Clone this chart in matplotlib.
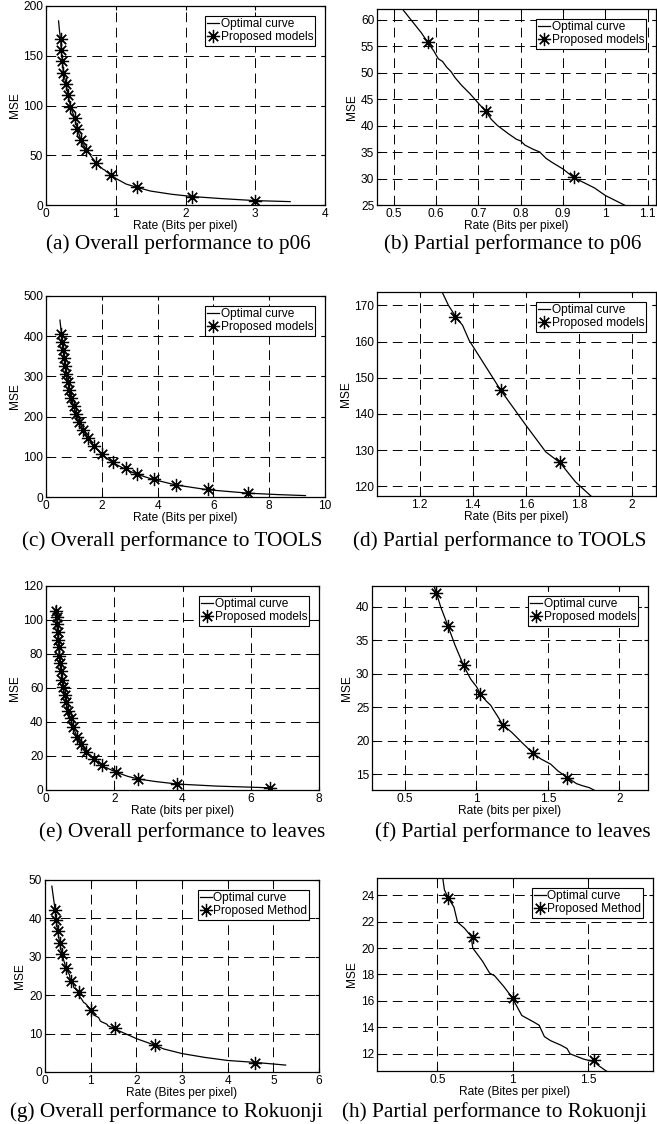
"""
Rate-distortion plots: optimal curve vs proposed models for four test images,
overall view (left column) and zoomed partial view (right column).
"""

import matplotlib
matplotlib.use('Agg')
import matplotlib.pyplot as plt
from matplotlib.ticker import FormatStrFormatter

W, H = 657, 1124

# ---- p06 ----
p06_curve_rate = [0.18, 0.195, 0.21, 0.22, 0.235, 0.25, 0.29, 0.32, 0.35, 0.41, 0.45, 0.5,
                  0.52, 0.545, 0.565, 0.58, 0.595, 0.605, 0.615, 0.625, 0.635, 0.645, 0.66,
                  0.68, 0.70, 0.717, 0.73, 0.745, 0.77, 0.79, 0.80, 0.81, 0.83, 0.845, 0.86,
                  0.875, 0.90, 0.925, 0.95, 0.975, 1.0, 1.02, 1.045, 1.15, 1.31, 1.5, 1.8,
                  2.1, 2.5, 3.0, 3.5]
p06_curve_mse = [185, 174, 166, 155, 144, 133, 121, 110, 99, 87.6, 76.3, 65.5,
                 62, 59.5, 57.5, 55.7, 54, 52.6, 52.1, 51, 50.2, 49, 47.6,
                 46, 44.2, 42.7, 41.2, 40, 38.5, 37.4, 37.1, 36.3, 35.5, 35.0, 33.8,
                 33.0, 31.8, 30.2, 29.2, 28.2, 26.8, 26.0, 25.0, 21, 17.6, 14, 10.8,
                 8.5, 6.5, 4.4, 3.4]
p06_model_rate = [0.21, 0.22, 0.235, 0.25, 0.29, 0.32, 0.35, 0.41, 0.45, 0.5, 0.58,
                  0.717, 0.925, 1.31, 2.1, 3.0]
p06_model_mse = [166.4, 155.5, 144.3, 133.1, 121.6, 110.3, 98.9, 87.6, 76.3, 65.5, 55.7,
                 42.7, 30.2, 17.6, 8.5, 4.4]

# ---- TOOLS ----
tools_curve_rate = [0.5, 0.555, 0.583, 0.614, 0.649, 0.689, 0.733, 0.784, 0.842, 0.91, 0.99,
                    1.083, 1.195, 1.285, 1.309, 1.337, 1.362, 1.387, 1.45, 1.506, 1.6, 1.675,
                    1.729, 1.787, 1.845, 2.0, 2.4, 2.85, 3.26, 3.88, 4.65, 5.8, 7.25, 8.3, 9.3]
tools_curve_mse = [440, 405, 386, 366, 346, 326, 306, 286, 266, 246, 226,
                   206, 186, 173.7, 170, 166.8, 164.5, 160.3, 153, 146.5, 136.9, 129.5,
                   126.5, 121.2, 117.3, 105, 85, 69, 56.5, 43, 30, 18, 9.5, 6, 3.5]
tools_model_rate = [0.555, 0.583, 0.614, 0.649, 0.689, 0.733, 0.784, 0.842, 0.91, 0.99,
                    1.083, 1.195, 1.335, 1.505, 1.727, 2.0, 2.4, 2.85, 3.26, 3.88, 4.65,
                    5.8, 7.25]
tools_model_mse = [406.7, 386.7, 366.7, 346.7, 326.7, 306.7, 286.7, 266.7, 246.7, 226.7,
                   206.7, 186.7, 166.7, 146.7, 126.7, 106.7, 86.7, 71, 58, 44, 31, 19, 10.5]

# ---- leaves ----
leaves_curve_rate = [0.29, 0.3, 0.322, 0.352, 0.392, 0.44, 0.505, 0.59, 0.65, 0.702, 0.72,
                     0.75, 0.8, 0.85, 0.91, 0.96, 1.0, 1.028, 1.07, 1.1, 1.12, 1.15, 1.184,
                     1.25, 1.32, 1.393, 1.45, 1.52, 1.57, 1.637, 1.7, 1.74, 1.79, 1.82,
                     2.05, 2.4, 2.7, 3.2, 3.85, 5.0, 6.55]
leaves_curve_mse = [108, 105.5, 97.5, 88.5, 79, 70, 60.5, 51.5, 46.7, 43.1, 42.1,
                    40, 37.2, 34.3, 31.25, 29.2, 28.1, 27.0, 25.9, 25.3, 24.6, 23.6, 22.4,
                    21.2, 19.7, 18.2, 17.3, 16.5, 15.5, 14.5, 13.6, 13.3, 13.0, 12.66,
                    10.5, 8.0, 6.5, 5.0, 3.5, 2.3, 1.3]
leaves_model_rate = [0.3, 0.31, 0.322, 0.337, 0.352, 0.37, 0.392, 0.414, 0.44, 0.472, 0.505,
                     0.545, 0.59, 0.65, 0.72, 0.8, 0.91, 1.028, 1.184, 1.393, 1.637, 2.05,
                     2.7, 3.85, 6.55]
leaves_model_mse = [105.5, 101.5, 97.5, 93, 88.5, 84, 79, 74.5, 70, 65, 60.5,
                    56, 51.5, 46.7, 42.1, 37.2, 31.25, 27.0, 22.4, 18.2, 14.5, 10.5,
                    6.5, 3.5, 1.2]

# ---- Rokuonji ----
roku_curve_rate = [0.15, 0.22, 0.245, 0.28, 0.32, 0.37, 0.46, 0.536, 0.547, 0.572, 0.61,
                   0.634, 0.68, 0.724, 0.735, 0.8, 0.847, 0.88, 0.94, 1.0, 1.027, 1.06,
                   1.14, 1.175, 1.21, 1.25, 1.32, 1.36, 1.38, 1.47, 1.54, 1.57, 1.62, 1.7,
                   2.0, 2.4, 2.6, 3.0, 3.5, 4.0, 4.6, 5.27]
roku_curve_mse = [48.4, 42.3, 39.6, 36.6, 33.6, 30.8, 27.0, 25.3, 24.4, 23.8, 23.1,
                  21.96, 21.5, 20.9, 20.0, 19.0, 18.1, 17.9, 17.1, 16.2, 15.6, 14.9,
                  14.4, 14.16, 13.3, 13.0, 12.65, 12.4, 12.0, 11.6, 11.4, 11.1, 10.7, 10.3,
                  8.7, 7.0, 6.0, 4.8, 3.8, 3.0, 2.5, 1.8]
roku_model_rate = [0.22, 0.245, 0.28, 0.32, 0.37, 0.46, 0.572, 0.735, 1.0, 1.54, 2.4, 4.6]
roku_model_mse = [42.3, 39.6, 36.6, 33.6, 30.8, 27.0, 23.8, 20.8, 16.2, 11.5, 7.0, 2.4]

captions = ['(a) Overall performance to p06', '(b) Partial performance to p06',
            '(c) Overall performance to TOOLS', '(d) Partial performance to TOOLS',
            '(e) Overall performance to leaves', '(f) Partial performance to leaves',
            '(g) Overall performance to Rokuonji', '(h) Partial performance to Rokuonji']

plt.rcParams['font.family'] = ['Liberation Sans', 'DejaVu Sans']
plt.rcParams['font.size'] = 8.6
plt.rcParams['lines.scale_dashes'] = False


def rect(l, t, r, b):
    """pixel box (top-left origin) -> figure fraction"""
    return [l / W, 1 - b / H, (r - l) / W, (b - t) / H]


def draw_panel(ax, cx, cy, px, py, xlim, ylim, xticks, yticks, xlabel, model_label):
    ax.plot(cx, cy, color='black', lw=0.9, label='Optimal curve')
    ax.plot(px, py, linestyle='none', marker=(8, 2, 0), ms=9.5, mec='black', mew=0.9,
            color='black', label=model_label)
    ax.set_xlim(*xlim)
    ax.set_ylim(*ylim)
    ax.set_xticks(xticks)
    ax.set_yticks(yticks)
    ax.xaxis.set_major_formatter(FormatStrFormatter('%g'))
    ax.yaxis.set_major_formatter(FormatStrFormatter('%g'))
    ax.grid(True, color='black', linestyle=(0, (7, 4)), linewidth=0.7)
    ax.tick_params(direction='in', top=True, right=True, length=3, width=0.8, pad=2)
    for s in ax.spines.values():
        s.set_linewidth(0.9)
    ax.set_xlabel(xlabel, labelpad=0)
    ax.set_ylabel('MSE', labelpad=2)
    leg = ax.legend(loc='upper right', fancybox=False, edgecolor='black', framealpha=1,
                    handlelength=1.0, handletextpad=0.1, borderpad=0.2,
                    labelspacing=0.1, borderaxespad=0.8)
    leg.get_frame().set_linewidth(0.8)


fig = plt.figure(figsize=(W / 100, H / 100), dpi=100)

bits = 'Rate (Bits per pixel)'
bits_lc = 'Rate (bits per pixel)'
bites = 'Rate (Bites per pixel)'

# (a) / (b)
ax = fig.add_axes(rect(46, 6, 325, 205))
draw_panel(ax, p06_curve_rate, p06_curve_mse, p06_model_rate, p06_model_mse,
           (0, 4), (0, 200), [0, 1, 2, 3, 4], [0, 50, 100, 150, 200], bits, 'Proposed models')
ax = fig.add_axes(rect(377, 9, 656, 205))
draw_panel(ax, p06_curve_rate, p06_curve_mse, p06_model_rate, p06_model_mse,
           (0.46, 1.12), (25, 62), [0.5, 0.6, 0.7, 0.8, 0.9, 1.0, 1.1],
           [25, 30, 35, 40, 45, 50, 55, 60], bits, 'Proposed models')

# (c) / (d)
ax = fig.add_axes(rect(46, 296, 325, 497))
draw_panel(ax, tools_curve_rate, tools_curve_mse, tools_model_rate, tools_model_mse,
           (0, 10), (0, 500), [0, 2, 4, 6, 8, 10], [0, 100, 200, 300, 400, 500], bits,
           'Proposed models')
ax = fig.add_axes(rect(377, 292, 656, 496))
draw_panel(ax, tools_curve_rate, tools_curve_mse, tools_model_rate, tools_model_mse,
           (1.04, 2.09), (117.3, 173.7), [1.2, 1.4, 1.6, 1.8, 2.0],
           [120, 130, 140, 150, 160, 170], bits, 'Proposed models')

# (e) / (f)
ax = fig.add_axes(rect(46, 586, 319, 790))
draw_panel(ax, leaves_curve_rate, leaves_curve_mse, leaves_model_rate, leaves_model_mse,
           (0, 8), (0, 120), [0, 2, 4, 6, 8], [0, 20, 40, 60, 80, 100, 120], bits_lc,
           'Proposed models')
ax = fig.add_axes(rect(372, 586, 648, 790))
draw_panel(ax, leaves_curve_rate, leaves_curve_mse, leaves_model_rate, leaves_model_mse,
           (0.27, 2.2), (12.65, 43.1), [0.5, 1, 1.5, 2], [15, 20, 25, 30, 35, 40], bits_lc,
           'Proposed models')

# (g) / (h)
ax = fig.add_axes(rect(45, 880, 319, 1072))
draw_panel(ax, roku_curve_rate, roku_curve_mse, roku_model_rate, roku_model_mse,
           (0, 6), (0, 50), [0, 1, 2, 3, 4, 5, 6], [0, 10, 20, 30, 40, 50], bites,
           'Proposed Method')
ax = fig.add_axes(rect(377, 878, 653, 1071))
draw_panel(ax, roku_curve_rate, roku_curve_mse, roku_model_rate, roku_model_mse,
           (0.1, 1.93), (10.7, 25.3), [0.5, 1, 1.5], [12, 14, 16, 18, 20, 22, 24], bites,
           'Proposed Method')

# captions under each panel
cap_pos = [(178, 244), (513, 244), (172, 541), (500, 541),
           (182, 832), (513, 832), (166, 1112), (494, 1112)]
for text, (cx, cy) in zip(captions, cap_pos):
    fig.text(cx / W, 1 - cy / H, text, ha='center', va='center',
             family='Liberation Serif', fontsize=15.3)

fig.savefig('out.png', dpi=100)
